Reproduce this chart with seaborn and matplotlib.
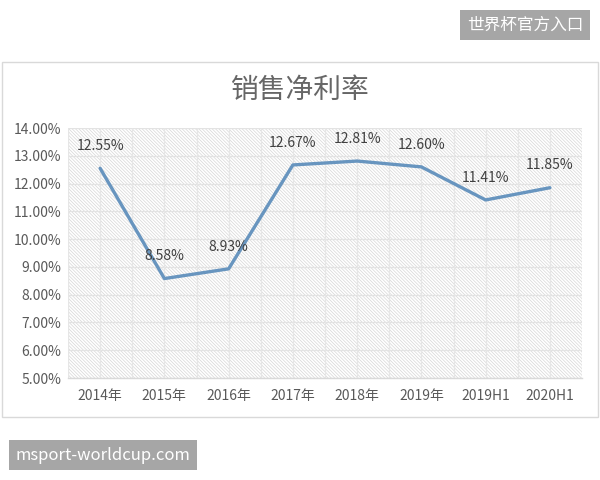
import matplotlib
matplotlib.use("Agg")
import matplotlib.pyplot as plt
from matplotlib.patches import Rectangle
import seaborn as sns
import pandas as pd

# data
periods = ["2014年", "2015年", "2016年", "2017年", "2018年", "2019年", "2019H1", "2020H1"]
net_margin = [12.55, 8.58, 8.93, 12.67, 12.81, 12.60, 11.41, 11.85]
y_ticks = [5, 6, 7, 8, 9, 10, 11, 12, 13, 14]

sns.set_style("white")
plt.rcParams["font.family"] = ["Noto Sans CJK SC", "DejaVu Sans"]
plt.rcParams["hatch.linewidth"] = 0.5

df = pd.DataFrame({"pos": range(len(periods)), "period": periods, "margin": net_margin})

fig = plt.figure(figsize=(6, 4.8), dpi=100)
fig.patch.set_facecolor("white")

# outer chart frame (behind the axes)
fig.add_artist(Rectangle((0.004, 1 - 417 / 480), 0.992, (417 - 62) / 480, transform=fig.transFigure,
                         facecolor="white", edgecolor="#d9d9d9", linewidth=1.0, zorder=-5))

ax = fig.add_axes([68 / 600, 1 - 378 / 480, (582 - 68) / 600, (378 - 128) / 480])
ax.set_facecolor("none")
# diagonal pattern fill of the plot area
ax.add_patch(Rectangle((0, 0), 1, 1, transform=ax.transAxes, facecolor="white",
                       edgecolor="#d6d6d6", linewidth=0, hatch="\\" * 10, zorder=0))

sns.lineplot(data=df, x="pos", y="margin", ax=ax, color="#6895bf", linewidth=2.4, zorder=3)

for _, r in df.iterrows():
    ax.annotate(f"{r['margin']:.2f}%", (r["pos"], r["margin"]), xytext=(0, 11),
                textcoords="offset points", ha="center", va="bottom",
                fontsize=10, color="#404040", zorder=4)

ax.set_xlim(-0.5, len(periods) - 0.5)
ax.set_ylim(5, 14)
ax.set_yticks(y_ticks)
ax.set_yticklabels([f"{v:.2f}%" for v in y_ticks])
ax.set_xticks(range(len(periods)))
ax.set_xticklabels(periods)
ax.set_xlabel("")
ax.set_ylabel("")
ax.tick_params(axis="both", length=0, labelsize=10, labelcolor="#595959")
ax.tick_params(axis="x", pad=8)
ax.tick_params(axis="y", pad=5)

# gridlines at categories and halfway between them
for y in y_ticks:
    ax.axhline(y, color="#e3e3e3", linewidth=0.9, zorder=1)
for i in range(2 * len(periods) + 1):
    ax.axvline(-0.5 + i * 0.5, color="#e6e6e6", linewidth=0.9, zorder=1)

for s in ["top", "right", "left"]:
    ax.spines[s].set_visible(False)
ax.spines["bottom"].set_color("#d9d9d9")
ax.spines["bottom"].set_linewidth(1.0)

fig.text(0.5, 1 - 90 / 480, "销售净利率", ha="center", va="center", fontsize=20, color="#666666")

# watermark boxes
fig.text(525 / 600, 1 - 25 / 480, "世界杯官方入口", ha="center", va="center", fontsize=12, color="white",
         bbox=dict(boxstyle="square,pad=0.4", facecolor="#a6a6a6", edgecolor="none"))
fig.text(103 / 600, 1 - 455 / 480, "msport-worldcup.com", ha="center", va="center", fontsize=12,
         color="white", bbox=dict(boxstyle="square,pad=0.4", facecolor="#a6a6a6", edgecolor="none"))

fig.savefig("out.png", dpi=100)
